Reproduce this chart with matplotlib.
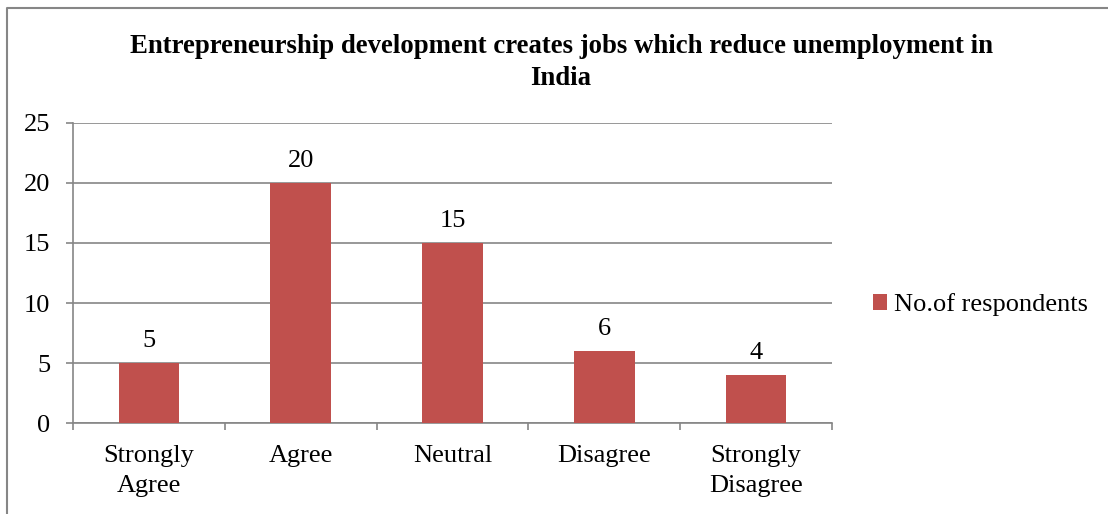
import matplotlib.pyplot as plt
from matplotlib.lines import Line2D

# Data
categories = ['Strongly\nAgree', 'Agree', 'Neutral', 'Disagree', 'Strongly\nDisagree']
respondents = [5, 20, 15, 6, 4]
series_name = 'No.of respondents'
y_ticks = [0, 5, 10, 15, 20, 25]

plt.rcParams['font.family'] = ['Liberation Serif', 'DejaVu Serif']
fs = 19

fig = plt.figure(figsize=(11.08, 5.14), dpi=100)
W, H = 1108, 514
ax = fig.add_axes([73 / W, 1 - 423 / H, (832 - 73) / W, (423 - 123) / H])

bar_color = '#C0504D'
grid_color = '#868686'
x = list(range(len(categories)))
bars = ax.bar(x, respondents, width=0.4, color=bar_color, label=series_name, zorder=3)

for b, v in zip(bars, respondents):
    ax.text(b.get_x() + b.get_width() / 2, v + 0.9, str(v), ha='center', va='bottom',
            fontsize=fs)

ax.set_xlim(-0.5, len(categories) - 0.5)
ax.set_ylim(0, 25)
ax.set_yticks(y_ticks)
ax.set_yticklabels([str(t) for t in y_ticks], fontsize=fs)
ax.yaxis.grid(True, color=grid_color, linewidth=1.2, zorder=0)

# x ticks at category boundaries, labels at centres
ax.set_xticks([i - 0.5 for i in range(len(categories) + 1)])
ax.set_xticklabels([])
ax.set_xticks(x, minor=True)
ax.set_xticklabels(categories, minor=True, fontsize=fs, linespacing=1.5)
ax.tick_params(axis='x', which='minor', length=0, pad=15.5)
ax.tick_params(axis='x', which='major', length=5, color=grid_color, width=1.2)
ax.tick_params(axis='y', length=5, color=grid_color, width=1.2, pad=11.5)

for s in ['top', 'right']:
    ax.spines[s].set_visible(False)
for s in ['left', 'bottom']:
    ax.spines[s].set_color(grid_color)
    ax.spines[s].set_linewidth(1.2)

fig.text(561 / W, 1 - 62.5 / H,
         'Entrepreneurship development creates jobs which reduce unemployment in\nIndia',
         ha='center', va='center', fontsize=19.3, fontweight='bold', linespacing=1.4)

fig.legend(handles=[bars], labels=[series_name], loc='center left',
           bbox_to_anchor=(849 / W, 1 - 305 / H), frameon=False, fontsize=fs,
           handlelength=0.55, handleheight=0.55, handletextpad=0.25)

# chart area border (only top and left edges fall inside the image)
fig.lines.append(Line2D([7 / W, 7 / W, 1], [0, 1 - 8 / H, 1 - 8 / H],
                        transform=fig.transFigure, color='#868686', linewidth=1.5))

fig.savefig('out.png', dpi=100)
